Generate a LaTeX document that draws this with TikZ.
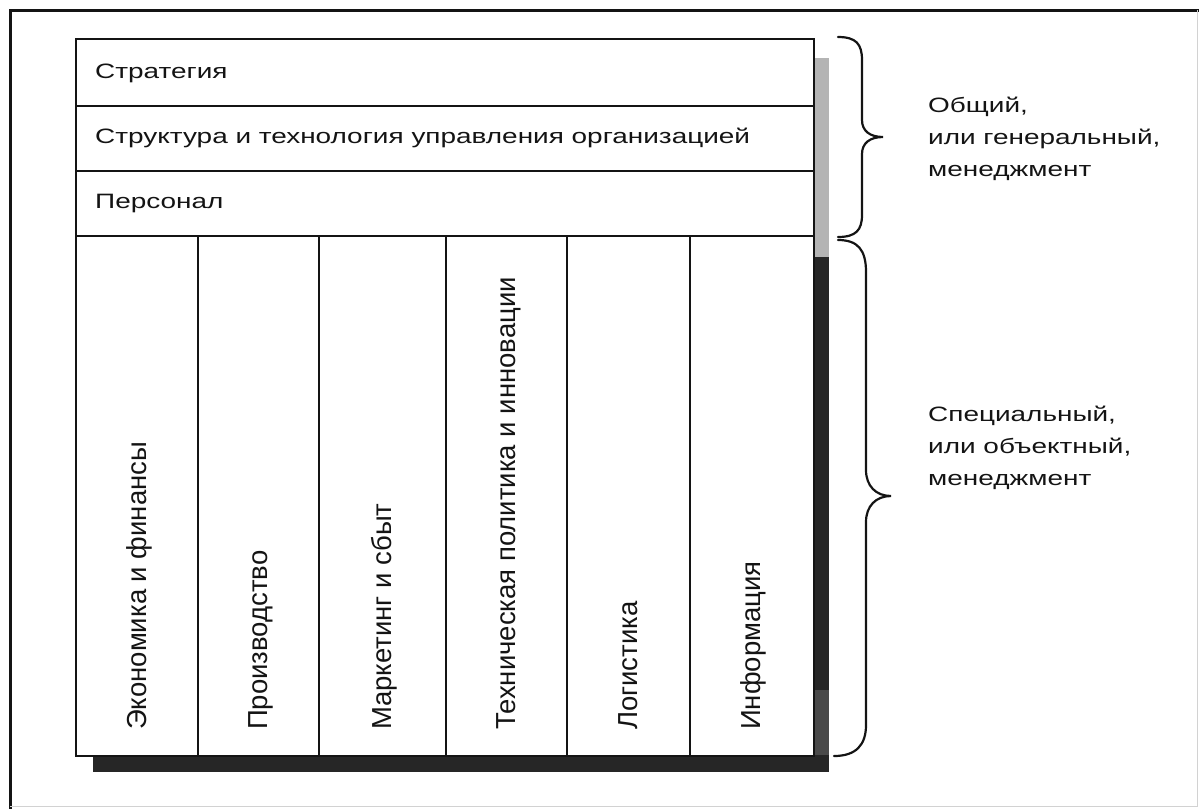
\documentclass[tikz,border=0pt]{standalone}
\usepackage{fontspec}
\usepackage{graphicx}
\setmainfont{Liberation Sans}
\definecolor{ink}{HTML}{141414}
\definecolor{shadelight}{HTML}{B4B4B4}
\definecolor{shadedark}{HTML}{262626}
\definecolor{shademid}{HTML}{4A4A4A}
% horizontal captions are set slightly flattened and widened
\newcommand\sqtxt[1]{\scalebox{1.035}[0.77]{#1}}
\begin{document}
\begin{tikzpicture}[x=1pt,y=-1pt,
  cell/.style={draw=ink, line width=2.3pt, fill=white, inner sep=0pt, anchor=north west},
  rowtext/.style={anchor=base west, inner sep=0pt, text=ink, font=\fontsize{27}{32}\selectfont},
  coltext/.style={rotate=90, anchor=base west, inner sep=0pt, text=ink, font=\fontsize{27.5}{32}\selectfont},
  sidetext/.style={anchor=base west, inner sep=0pt, text=ink, font=\fontsize{27}{32}\selectfont},
  brace/.style={draw=ink, line width=2.2pt, line cap=round}]
\useasboundingbox (0,0) rectangle (1199,809);

% page frame
\draw[ink, line width=3pt] (1199,10) -- (10,10) -- (10,809);
\draw[gray!35, line width=1pt] (1197,10) -- (1197,806) -- (10,806);

% drop shadow of the block
\fill[shadelight] (813,58) rectangle (829,257);
\fill[shadedark] (813,257) rectangle (829,690);
\fill[shademid] (813,690) rectangle (829,772);
\fill[shadedark] (93,755) rectangle (829,772);

% general management rows
\node[cell, minimum width=738pt, minimum height=67pt] (strat) at (75,38) {};
\node[cell, minimum width=738pt, minimum height=65pt] (struct) at (75,105) {};
\node[cell, minimum width=738pt, minimum height=65pt] (pers) at (75,170) {};

% special management columns
\node[cell, minimum width=122pt, minimum height=520pt] (econ) at (75,235) {};
\node[cell, minimum width=121pt, minimum height=520pt] (prod) at (197,235) {};
\node[cell, minimum width=127pt, minimum height=520pt] (mark) at (318,235) {};
\node[cell, minimum width=121pt, minimum height=520pt] (tech) at (445,235) {};
\node[cell, minimum width=123pt, minimum height=520pt] (logi) at (566,235) {};
\node[cell, minimum width=124pt, minimum height=520pt] (info) at (689,235) {};

% row captions
\node[rowtext] (tStrat) at (95,78) {\sqtxt{Стратегия}};
\node[rowtext] (tStruct) at (95,143) {\sqtxt{Структура и технология управления организацией}};
\node[rowtext] (tPers) at (95,208) {\sqtxt{Персонал}};

% column captions
\node[coltext] (tEcon) at (146,730) {Экономика и финансы};
\node[coltext] (tProd) at (267,730) {Производство};
\node[coltext] (tMark) at (391,730) {Маркетинг и сбыт};
\node[coltext] (tTech) at (515,730) {Техническая политика и инновации};
\node[coltext] (tLogi) at (637,730) {Логистика};
\node[coltext] (tInfo) at (760,730) {Информация};

% braces
\draw[brace] (838,37) .. controls (856,37) and (862,44) .. (862,60)
  -- (862,120) .. controls (862,131) and (870,137) .. (883,137)
  .. controls (870,137) and (862,143) .. (862,154)
  -- (862,215) .. controls (862,230) and (856,237) .. (838,237);
\draw[brace] (838,240) .. controls (858,240) and (866,250) .. (866,272)
  -- (866,470) .. controls (866,486) and (876,496) .. (891,496)
  .. controls (876,496) and (866,506) .. (866,522)
  -- (866,725) .. controls (866,745) and (856,756) .. (834,756);

% side labels
\node[sidetext] (gen1) at (928,112) {\sqtxt{Общий,}};
\node[sidetext] (gen2) at (928,144) {\sqtxt{или генеральный,}};
\node[sidetext] (gen3) at (928,176) {\sqtxt{менеджмент}};
\node[sidetext] (spec1) at (928,421) {\sqtxt{Специальный,}};
\node[sidetext] (spec2) at (928,453) {\sqtxt{или объектный,}};
\node[sidetext] (spec3) at (928,485) {\sqtxt{менеджмент}};
\end{tikzpicture}
\end{document}
